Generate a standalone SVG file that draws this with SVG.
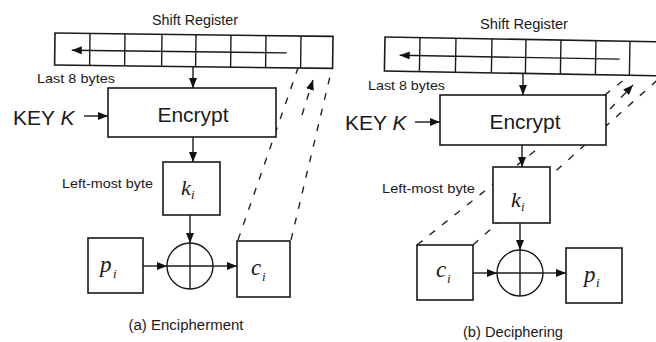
<svg xmlns="http://www.w3.org/2000/svg" width="656" height="342" viewBox="0 0 656 342">
<style>
.ln{stroke:#1a1a1a;stroke-width:1.4;fill:none}
.bx{stroke:#1a1a1a;stroke-width:1.6;fill:#fff}
.dash{stroke:#222;stroke-width:1.4;fill:none;stroke-dasharray:7 9}
.arr{marker-end:url(#ah)}
.sans{font-family:"Liberation Sans",Arial,sans-serif;fill:#1a1a1a}
.math{font-family:"Liberation Serif","Times New Roman",serif;font-style:italic;fill:#1a1a1a}
</style>
<defs>
<marker id="ah" markerUnits="userSpaceOnUse" markerWidth="11" markerHeight="8" refX="10" refY="4" orient="auto">
<path d="M0,0 L10,4 L0,8 Z" fill="#111"/>
</marker>
</defs>
<rect width="656" height="342" fill="#fff"/>
<g id="connectors">
<line class="dash" x1="238" y1="240" x2="298" y2="68"/>
<line class="dash" x1="291" y1="240" x2="332" y2="68"/>
<line class="dash arr" x1="302" y1="115" x2="313" y2="80"/>
<line class="dash" x1="417" y1="245" x2="630" y2="75"/>
<line class="dash" x1="473" y1="245" x2="663" y2="75"/>
<line class="dash arr" x1="610" y1="109" x2="633" y2="85"/>
</g>
<g id="left-register">
<g transform="rotate(0.7 55 33)">
<rect class="bx" x="55" y="33" width="278" height="32"/>
<path class="ln" d="M90,33V65M125,33V65M162,33V65M196,33V65M231,33V65M266,33V65M301,33V65"/>
<line class="ln arr" x1="287" y1="50" x2="72" y2="50"/>
</g>
<text class="sans" x="195" y="25" font-size="14" text-anchor="middle" textLength="86" lengthAdjust="spacingAndGlyphs">Shift Register</text>
<text class="sans" x="37" y="83" font-size="13" textLength="78" lengthAdjust="spacingAndGlyphs">Last 8 bytes</text>
</g>
<g id="left-encrypt">
<rect class="bx" x="108" y="88" width="168" height="49"/>
<text class="sans" x="193" y="122" font-size="21" text-anchor="middle">Encrypt</text>
</g>
<g id="left-key">
<text class="sans" x="13" y="125" font-size="21">KEY <tspan font-style="italic">K</tspan></text>
</g>
<g id="left-k">
<rect class="bx" x="163" y="162" width="57" height="53"/>
<text class="math" x="181" y="195" font-size="22">k</text>
<text class="math" x="191" y="199" font-size="13">i</text>
<text class="sans" x="62" y="188" font-size="13.5" textLength="91" lengthAdjust="spacingAndGlyphs">Left-most byte</text>
</g>
<g id="left-xor">
<circle class="ln" cx="190" cy="266" r="23"/>
<line class="ln" x1="190" y1="243" x2="190" y2="289"/>
<line class="ln" x1="167" y1="266" x2="213" y2="266"/>
</g>
<g id="left-p">
<rect class="bx" x="88" y="238" width="55" height="55"/>
<text class="math" x="100" y="272" font-size="23">p</text>
<text class="math" x="113" y="278" font-size="13">i</text>
</g>
<g id="left-c">
<rect class="bx" x="237" y="241" width="53" height="56"/>
<text class="math" x="251" y="275" font-size="23">c</text>
<text class="math" x="262" y="281" font-size="13">i</text>
</g>
<text class="sans" x="186" y="330" font-size="14" text-anchor="middle" textLength="115" lengthAdjust="spacingAndGlyphs">(a) Encipherment</text>

<g id="right-register">
<g transform="rotate(1 385 37)">
<rect class="bx" x="385" y="37" width="285" height="34"/>
<path class="ln" d="M420,37V71M456,37V71M492,37V71M526,37V71M561,37V71M596,37V71M630,37V71"/>
<line class="ln arr" x1="620" y1="55" x2="400" y2="55"/>
</g>
<text class="sans" x="524" y="29" font-size="14" text-anchor="middle" textLength="88" lengthAdjust="spacingAndGlyphs">Shift Register</text>
<text class="sans" x="368" y="90" font-size="13" textLength="77" lengthAdjust="spacingAndGlyphs">Last 8 bytes</text>
</g>
<g id="right-encrypt">
<rect class="bx" x="440" y="95" width="166" height="50"/>
<text class="sans" x="525" y="129" font-size="21" text-anchor="middle">Encrypt</text>
</g>
<g id="right-key">
<text class="sans" x="345" y="130" font-size="21">KEY <tspan font-style="italic">K</tspan></text>
</g>
<g id="right-k">
<rect class="bx" x="493" y="167" width="57" height="56"/>
<text class="math" x="511" y="207" font-size="22">k</text>
<text class="math" x="521" y="211" font-size="13">i</text>
<text class="sans" x="382" y="193" font-size="13.5" textLength="93" lengthAdjust="spacingAndGlyphs">Left-most byte</text>
</g>
<g id="right-xor">
<circle class="ln" cx="520" cy="273" r="23"/>
<line class="ln" x1="520" y1="250" x2="520" y2="296"/>
<line class="ln" x1="497" y1="273" x2="543" y2="273"/>
</g>
<g id="right-c">
<rect class="bx" x="417" y="245" width="56" height="55"/>
<text class="math" x="436" y="277" font-size="23">c</text>
<text class="math" x="447" y="283" font-size="13">i</text>
</g>
<g id="right-p">
<rect class="bx" x="566" y="248" width="56" height="55"/>
<text class="math" x="584" y="282" font-size="23">p</text>
<text class="math" x="596" y="287" font-size="13">i</text>
</g>
<text class="sans" x="513" y="337" font-size="14" text-anchor="middle" textLength="100" lengthAdjust="spacingAndGlyphs">(b) Deciphering</text>

<g id="arrows">
<line class="ln arr" x1="193" y1="66" x2="193" y2="88"/>
<line class="ln arr" x1="84" y1="116" x2="108" y2="116"/>
<line class="ln arr" x1="193" y1="137" x2="193" y2="162"/>
<line class="ln arr" x1="190" y1="215" x2="190" y2="243"/>
<line class="ln arr" x1="143" y1="266" x2="167" y2="266"/>
<line class="ln arr" x1="213" y1="266" x2="237" y2="266"/>
<line class="ln arr" x1="523" y1="73" x2="523" y2="95"/>
<line class="ln arr" x1="415" y1="122" x2="440" y2="122"/>
<line class="ln arr" x1="522" y1="145" x2="522" y2="167"/>
<line class="ln arr" x1="520" y1="223" x2="520" y2="250"/>
<line class="ln arr" x1="473" y1="273" x2="497" y2="273"/>
<line class="ln arr" x1="543" y1="273" x2="566" y2="273"/>
</g>
</svg>
